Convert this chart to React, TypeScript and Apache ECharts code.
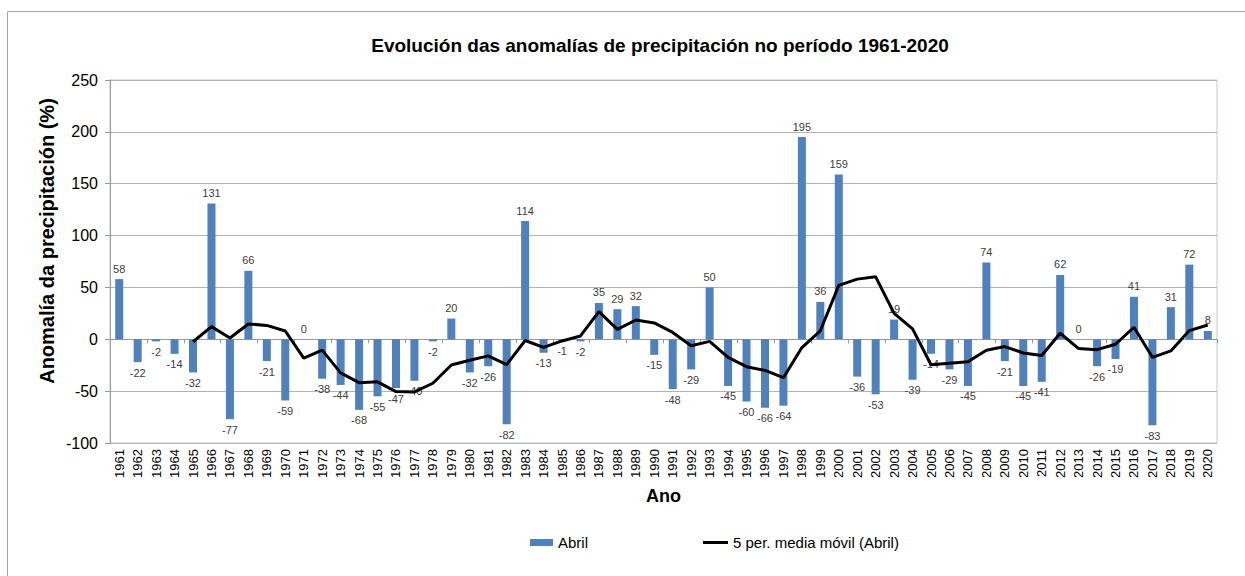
import React, { useEffect, useRef } from "react";
import * as echarts from "echarts";

const years: string[] = [
  "1961","1962","1963","1964","1965","1966","1967","1968","1969","1970",
  "1971","1972","1973","1974","1975","1976","1977","1978","1979","1980",
  "1981","1982","1983","1984","1985","1986","1987","1988","1989","1990",
  "1991","1992","1993","1994","1995","1996","1997","1998","1999","2000",
  "2001","2002","2003","2004","2005","2006","2007","2008","2009","2010",
  "2011","2012","2013","2014","2015","2016","2017","2018","2019","2020",
];

const abril: number[] = [
  58, -22, -2, -14, -32, 131, -77, 66, -21, -59,
  0, -38, -44, -68, -55, -47, -40, -2, 20, -32,
  -26, -82, 114, -13, -1, -2, 35, 29, 32, -15,
  -48, -29, 50, -45, -60, -66, -64, 195, 36, 159,
  -36, -53, 19, -39, -14, -29, -45, 74, -21, -45,
  -41, 62, 0, -26, -19, 41, -83, 31, 72, 8,
];

const mediaMovil: (number | null)[] = [
  null, null, null, null, -2.4, 12.2, 1.2, 14.8, 13.4, 8,
  -18.2, -10.4, -32.4, -41.8, -41, -50.4, -50.8, -42.4, -24.8, -20.2,
  -16, -24.4, -1.2, -7.8, -1.6, 3.2, 26.6, 9.6, 18.6, 15.8,
  6.6, -6.2, -2, -17.4, -26.4, -30, -37, -8, 8.2, 52,
  58, 60.2, 25, 10, -24.6, -23.2, -21.6, -10.6, -7, -13.2,
  -15.6, 5.8, -9, -10, -4.8, 11.6, -17.4, -11.2, 8.4, 13.8,
];

const FONT = "'Liberation Sans', Arial, sans-serif";
const LABEL_COLOR = "#404040";

export default function App() {
  const ref = useRef<HTMLDivElement>(null);
  useEffect(() => {
    if (!ref.current) return;
    const chart = echarts.init(ref.current, undefined, { renderer: "svg" });
    chart.setOption({
      animation: false,
      backgroundColor: "#ffffff",
      textStyle: { fontFamily: FONT },
      title: {
        text: "Evolución das anomalías de precipitación no período 1961-2020",
        left: 655,
        textAlign: "center",
        top: 31,
        textStyle: { fontFamily: FONT, fontSize: 19, fontWeight: "bold", color: "#000" },
      },
      graphic: [
        {
          type: "rect",
          shape: { x: 7.5, y: 11.5, width: 1260, height: 600 },
          style: { fill: "none", stroke: "#a6a6a6", lineWidth: 1 },
          silent: true,
          z: -1,
        },
        {
          type: "text",
          x: 47,
          y: 241,
          rotation: Math.PI / 2,
          silent: true,
          style: {
            text: "Anomalía da precipitación (%)",
            fontFamily: FONT,
            fontSize: 20,
            fontWeight: "bold",
            fill: "#000",
            align: "center",
            verticalAlign: "middle",
          },
        },
      ],
      legend: [
        {
          left: 525,
          top: 530,
          itemWidth: 23,
          itemHeight: 7,
          textStyle: { fontFamily: FONT, fontSize: 15, color: "#000" },
          data: [{ name: "Abril", icon: "rect" }],
        },
        {
          left: 698,
          top: 530,
          itemWidth: 25,
          itemHeight: 3,
          textStyle: { fontFamily: FONT, fontSize: 15, color: "#000" },
          data: [{ name: "5 per. media móvil (Abril)", icon: "rect", itemStyle: { color: "#000" } }],
        },
      ],
      grid: {
        left: 110,
        right: 28,
        top: 80,
        bottom: 133,
        show: true,
        borderColor: "#b9cdd3",
        borderWidth: 1,
        backgroundColor: "transparent",
      },
      xAxis: [
        {
          type: "category",
          data: years,
          axisLine: { onZero: true, lineStyle: { color: "#999999", width: 1 } },
          axisTick: { show: true, length: 4, lineStyle: { color: "#999999" } },
          axisLabel: { show: false },
          splitLine: { show: false },
        },
        {
          type: "category",
          data: years,
          position: "bottom",
          axisLine: { show: false, onZero: false },
          axisTick: { show: false },
          axisLabel: {
            show: true,
            interval: 0,
            rotate: 90,
            fontSize: 13,
            color: "#000",
            fontFamily: FONT,
            margin: 6,
          },
          name: "Ano",
          nameLocation: "middle",
          nameGap: 44,
          nameTextStyle: { fontFamily: FONT, fontSize: 18, fontWeight: "bold", color: "#000" },
        },
      ],
      yAxis: {
        type: "value",
        min: -100,
        max: 250,
        interval: 50,
        axisLine: { show: true, lineStyle: { color: "#999999" } },
        axisTick: { show: true, length: 5, lineStyle: { color: "#999999" } },
        axisLabel: { fontSize: 16, color: "#000", fontFamily: FONT, margin: 12 },
        splitLine: { show: true, lineStyle: { color: "#b3b3b3", width: 1 } },
      },
      series: [
        {
          name: "Abril",
          type: "bar",
          xAxisIndex: 0,
          barWidth: 8,
          itemStyle: { color: "#4f81bd" },
          data: abril.map((v) => ({
            value: v,
            label: {
              show: true,
              position: v < 0 ? "bottom" : "top",
              color: LABEL_COLOR,
              fontSize: 11,
              fontFamily: FONT,
            },
          })),
          label: {
            show: true,
            fontSize: 11,
            color: LABEL_COLOR,
            fontFamily: FONT,
            distance: 5,
          },
        },
        {
          name: "5 per. media móvil (Abril)",
          type: "line",
          xAxisIndex: 0,
          data: mediaMovil,
          showSymbol: false,
          symbol: "none",
          lineStyle: { color: "#000000", width: 3 },
          itemStyle: { color: "#000000" },
          z: 5,
        },
      ],
    });
    return () => chart.dispose();
  }, []);
  return (
    <div
      ref={ref}
      style={{ position: "fixed", left: 0, top: 0, width: 1245, height: 576 }}
    />
  );
}
